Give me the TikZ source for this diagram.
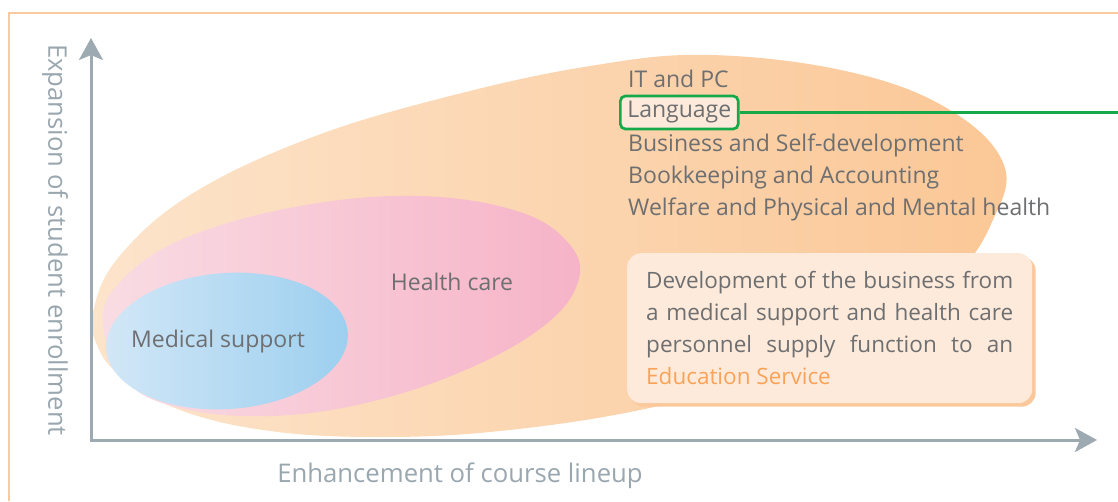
\documentclass[tikz,border=0pt]{standalone}
\usepackage{fontspec}
\setmainfont{Open Sans}
\usetikzlibrary{arrows.meta,shadows}
\definecolor{axisgray}{HTML}{9DAAB2}
\definecolor{labgray}{HTML}{9AA7AF}
\definecolor{textgray}{HTML}{6E6F71}
\definecolor{framor}{HTML}{FBC9A0}
\definecolor{orA}{HTML}{FCE4CB}
\definecolor{orB}{HTML}{FBC796}
\definecolor{pkA}{HTML}{F9DCE3}
\definecolor{pkB}{HTML}{F6B3C7}
\definecolor{blA}{HTML}{D2E7F7}
\definecolor{blB}{HTML}{9CCFEF}
\definecolor{boxfill}{HTML}{FEEADA}
\definecolor{boxshadow}{HTML}{FBC89C}
\definecolor{edorange}{HTML}{F9A35A}
\definecolor{langgreen}{HTML}{16A94A}
\begin{document}
\begin{tikzpicture}[x=1pt,y=-1pt,
  axis/.style={draw=axisgray, line width=3pt},
  frameline/.style={draw=framor, line width=1.3pt},
  txt/.style={text=textgray, font=\fontsize{23}{32}\selectfont, inner sep=0pt},
  axlab/.style={text=labgray, font=\fontsize{25.7}{30}\selectfont, inner sep=0pt},
  langbox/.style={draw=langgreen, line width=2.7pt, fill=boxfill, rounded corners=5pt,
    text=textgray, font=\fontsize{23}{32}\selectfont, inner xsep=7pt, minimum height=33pt},
  infobox/.style={fill=boxfill, rounded corners=14pt, text=textgray,
    font=\fontsize{22.5}{32}\selectfont, text width=367pt, align=justify,
    inner xsep=19pt, inner ysep=0pt, minimum height=150pt,
    general shadow={fill=boxshadow, shadow xshift=3.5pt, shadow yshift=-3.5pt}}
]
\useasboundingbox (0,0) rectangle (1118,501);
\draw[frameline] (9,501) -- (9,13) -- (1118,13);

% large orange region
\shade[left color=orA, right color=orB]
  plot[smooth cycle, tension=0.65] coordinates {
  (93,312) (118,258) (190,195) (310,138) (450,96) (590,66) (710,55) (850,72)
  (950,110) (1004,165) (992,222) (955,275) (880,325) (770,375) (640,410)
  (500,431) (380,437) (270,431) (180,410) (120,375) (97,345)};

% pink region
\shade[left color=pkA, right color=pkB]
  plot[smooth cycle, tension=0.65] coordinates {
  (103,322) (122,280) (185,238) (300,206) (420,196) (520,212) (570,245)
  (578,282) (545,325) (470,368) (370,402) (270,416) (180,408) (125,380)};

% blue region
\shade[left color=blA, right color=blB, rotate around={4:(227,341)}]
  (227,341) ellipse [x radius=121, y radius=68];

% axes
\coordinate (O) at (91,440);
\coordinate (ytip) at (91,38);
\coordinate (xtip) at (1097,440);
\draw[axis, {Stealth[length=22pt,width=24pt,inset=5pt]}-{Stealth[length=22pt,width=24pt,inset=5pt]}]
  (ytip) -- (O) -- (xtip);

\node[axlab, rotate=-90] (ylab) at (55,240) {Expansion of student enrollment};
\node[axlab] (xlab) at (460,476) {Enhancement of course lineup};

% region labels
\node[txt] (health) at (452,282) {Health care};
\node[txt] (medical) at (218,342) {Medical support};

% course list
\node[txt, anchor=base west] (it) at (628,87) {IT and PC};
\node[langbox, anchor=west] (lang) at (619,112.5) {Language};
\node[txt, anchor=base west] (bus) at (628,151) {Business and Self-development};
\node[txt, anchor=base west] (book) at (628,183) {Bookkeeping and Accounting};
\node[txt, anchor=base west] (welf) at (628,215) {Welfare and Physical and Mental health};

\coordinate (edge) at (1118,112.5);
\draw[langgreen, line width=2.7pt] (lang.east) -- (edge);

% info box
\node[infobox, anchor=north west] (info) at (627,253)
  {Development of the business from\linebreak a medical support and health care\linebreak personnel supply function to an\linebreak \textcolor{edorange}{Education Service}};
\end{tikzpicture}
\end{document}
